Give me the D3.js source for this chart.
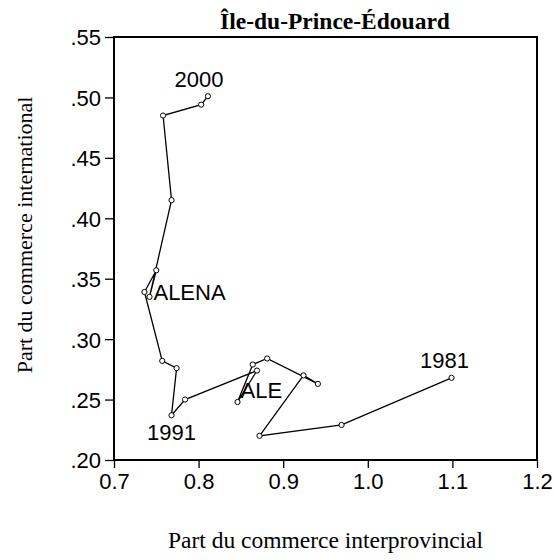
<!DOCTYPE html>
<html>
<head>
<meta charset="utf-8">
<script src="https://cdn.jsdelivr.net/npm/d3@7"></script>
<style>
  body { margin: 0; background: #fff; }
  svg { display: block; }
</style>
</head>
<body>
<div id="chart"></div>
<script>
// Île-du-Prince-Édouard, 1981-2000
var years    = [1981, 1982, 1983, 1984, 1985, 1986, 1987, 1988, 1989, 1990,
                1991, 1992, 1993, 1994, 1995, 1996, 1997, 1998, 1999, 2000];
var interProv = [1.099, 0.969, 0.872, 0.924, 0.941, 0.881, 0.864, 0.846, 0.869, 0.784,
                 0.768, 0.774, 0.757, 0.736, 0.750, 0.742, 0.768, 0.758, 0.803, 0.811];
var intl      = [0.268, 0.229, 0.220, 0.270, 0.263, 0.284, 0.279, 0.248, 0.274, 0.250,
                 0.237, 0.276, 0.282, 0.339, 0.357, 0.335, 0.415, 0.485, 0.494, 0.501];
var xTicks = [0.7, 0.8, 0.9, 1.0, 1.1, 1.2];
var yTicks = [0.20, 0.25, 0.30, 0.35, 0.40, 0.45, 0.50, 0.55];
var noteYears = [1981, 1988, 1991, 1994, 2000];
var noteTexts = ["1981", "ALE", "1991", "ALENA", "2000"];

var data = years.map(function(yr, i) {
    return {year: yr, x: interProv[i], y: intl[i]};
});

var margin = {top: 37, right: 17, bottom: 100, left: 114};
var W = 554, H = 560;
var width = W - margin.left - margin.right,
    height = H - margin.top - margin.bottom;

var svg = d3.select("#chart").append("svg")
    .attr("width", W)
    .attr("height", H);

var g = svg.append("g")
    .attr("transform", "translate(" + margin.left + "," + margin.top + ")");

var x = d3.scaleLinear().domain([0.7, 1.2]).range([0, width]);
var y = d3.scaleLinear().domain([0.20, 0.55]).range([height, 0]);

var tickFont = "'Liberation Sans', Arial, sans-serif";
var serif = "'Liberation Serif', 'Times New Roman', serif";

var xAxis = g.append("g")
    .attr("transform", "translate(0," + height + ")")
    .call(d3.axisBottom(x).tickValues(xTicks).tickFormat(d3.format(".1f"))
        .tickSize(8).tickSizeOuter(0).tickPadding(5));

var yAxis = g.append("g")
    .call(d3.axisLeft(y).tickValues(yTicks)
        .tickFormat(function(d) { return d3.format(".2f")(d).replace(/^0/, ""); })
        .tickSize(9).tickSizeOuter(0).tickPadding(4));

[xAxis, yAxis].forEach(function(a) {
    a.select(".domain").remove();
    a.selectAll("line").attr("stroke", "#000").attr("stroke-width", 1.3);
    a.selectAll("text")
        .attr("fill", "#000")
        .style("font-family", tickFont)
        .style("font-size", "22px");
});
yAxis.selectAll("text").attr("dy", "0.36em");
xAxis.selectAll("text").attr("dy", "0.72em");

// frame
g.append("rect")
    .attr("width", width)
    .attr("height", height)
    .attr("fill", "none")
    .attr("stroke", "#000")
    .attr("stroke-width", 2);

var line = d3.line()
    .x(function(d) { return x(d.x); })
    .y(function(d) { return y(d.y); });

g.append("path")
    .datum(data)
    .attr("fill", "none")
    .attr("stroke", "#000")
    .attr("stroke-width", 1.3)
    .attr("d", line);

g.selectAll("circle")
    .data(data)
    .enter().append("circle")
    .attr("cx", function(d) { return x(d.x); })
    .attr("cy", function(d) { return y(d.y); })
    .attr("r", 2.6)
    .attr("fill", "#fff")
    .attr("stroke", "#000")
    .attr("stroke-width", 1);

// point labels, offsets in px from the point
var noteOffsets = {
    1981: {dx: -7, dy: -10, anchor: "middle"},
    1988: {dx: 3,  dy: -4,  anchor: "start"},
    1991: {dx: 0,  dy: 25,  anchor: "middle"},
    1994: {dx: 9,  dy: 8,   anchor: "start"},
    2000: {dx: -9, dy: -9,  anchor: "middle"}
};

noteYears.forEach(function(yr, i) {
    var d = data[years.indexOf(yr)];
    var o = noteOffsets[yr];
    g.append("text")
        .attr("x", x(d.x) + o.dx)
        .attr("y", y(d.y) + o.dy)
        .attr("text-anchor", o.anchor)
        .style("font-family", tickFont)
        .style("font-size", "22px")
        .text(noteTexts[i]);
});

// title
svg.append("text")
    .attr("x", 335)
    .attr("y", 29)
    .attr("text-anchor", "middle")
    .style("font-family", serif)
    .style("font-weight", "bold")
    .style("font-size", "23.5px")
    .text("Île-du-Prince-Édouard");

// axis titles
svg.append("text")
    .attr("x", margin.left + width / 2)
    .attr("y", 548)
    .attr("text-anchor", "middle")
    .style("font-family", serif)
    .style("font-size", "23.5px")
    .text("Part du commerce interprovincial");

svg.append("text")
    .attr("transform", "translate(32,235) rotate(-90)")
    .attr("text-anchor", "middle")
    .style("font-family", serif)
    .style("font-size", "22px")
    .text("Part du commerce international");
</script>
</body>
</html>
